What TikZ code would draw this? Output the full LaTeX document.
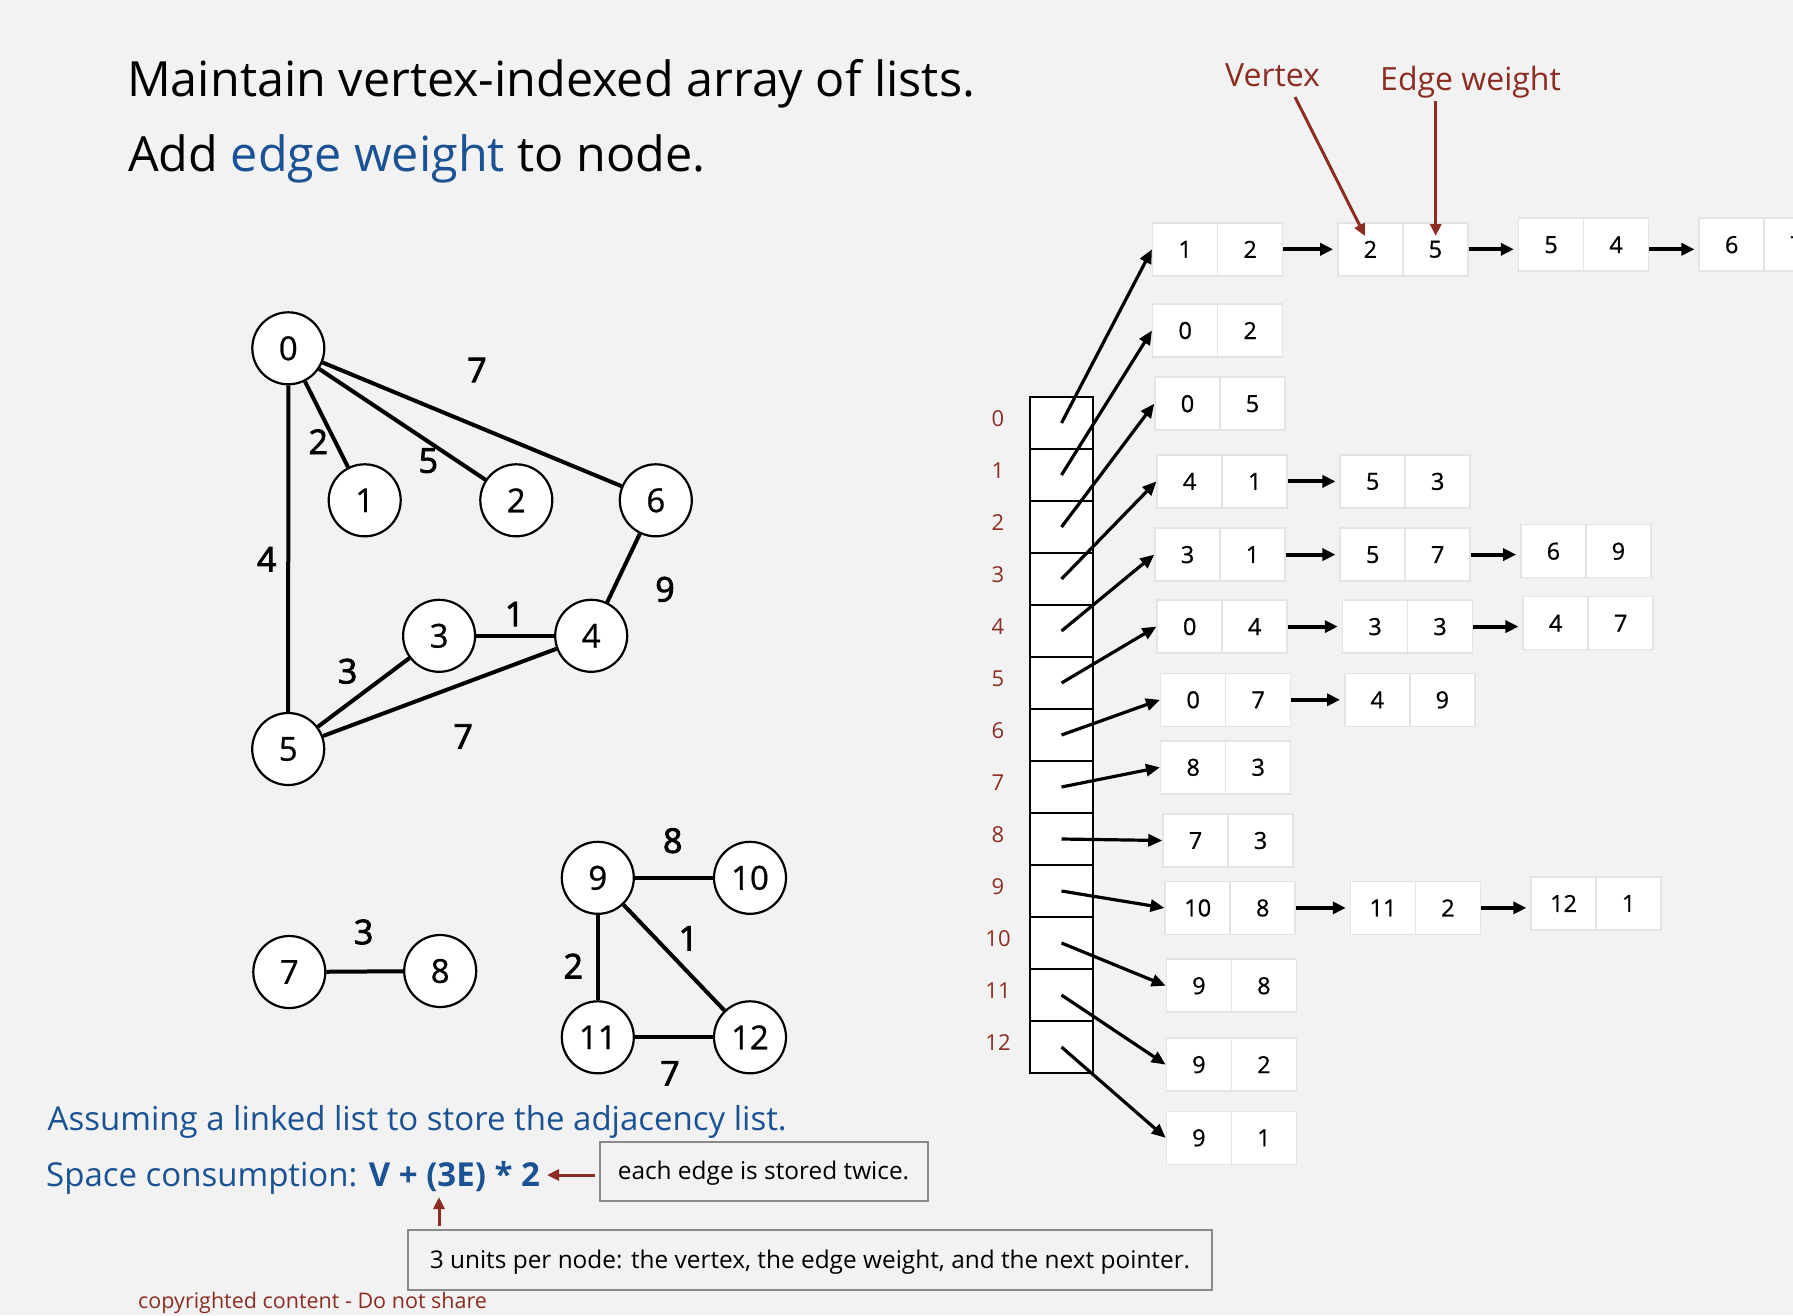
\documentclass[tikz,border=0pt]{standalone}
\usepackage{fontspec}
\setmainfont{Open Sans}
\newfontfamily\lblfont[FakeBold=2.5]{Open Sans}
\newfontfamily\cellfont[FakeBold=0.8]{Open Sans}
\usetikzlibrary{arrows.meta}
\definecolor{bg}{HTML}{F2F2F2}
\definecolor{myblue}{HTML}{1A5294}
\definecolor{myred}{HTML}{8C2D23}
\definecolor{cellgray}{HTML}{E2E5E5}
\definecolor{boxgray}{HTML}{8A8A8A}
\newcommand\fs[1]{\fontsize{#1}{#1}\selectfont}
\newcommand\lnode[5]{%
  \node[lcell] (#1a) at (#2+32.5,#3) {#4};
  \node[lcell] (#1b) at (#2+97.5,#3) {#5};}
\begin{document}
\begin{tikzpicture}[x=1pt,y=-1pt,
  gv/.style={circle,draw=black,line width=2.2pt,fill=white,minimum size=72pt,inner sep=0pt,font=\cellfont\fs{33}},
  gedge/.style={line width=4pt},
  wlab/.style={font=\lblfont\fs{34},inner sep=0pt},
  acell/.style={draw=black,line width=2pt,fill=white,minimum width=63pt,minimum height=52pt,inner sep=0pt},
  idx/.style={text=myred,font=\fs{22},inner sep=0pt},
  lcell/.style={draw=cellgray,line width=1.5pt,fill=white,minimum width=65pt,minimum height=53pt,inner sep=0pt,font=\cellfont\fs{23.5}},
  ptr/.style={line width=3.2pt,-{Triangle[length=14pt,width=12pt]}},
  nxt/.style={line width=4pt,-{Triangle[length=13pt,width=12pt]},shorten >=4pt},
  redarr/.style={draw=myred,line width=3pt,-{Triangle[length=12pt,width=11pt]}},
  note/.style={draw=boxgray,line width=2pt,inner sep=0pt,text height=17pt,text depth=0pt,font=\fs{24.4}},
  txt/.style={inner sep=0pt,anchor=base west}
]
\useasboundingbox (0,0) rectangle (1793,1315);
\clip (0,0) rectangle (1793,1315);
\fill[bg] (0,0) rectangle (1793,1315);

% titles
\node[txt,font=\fs{48.5}] (t1) at (127,96.7) {Maintain vertex-indexed array of lists.};
\node[txt,font=\fs{48.5}] (t2) at (128,171.7) {Add \textcolor{myblue}{edge weight} to node.};

% graph
\node[gv] (n0) at (288.3,348.3) {0};
\node[gv] (n1) at (364.7,500.3) {1};
\node[gv] (n2) at (516.3,500.3) {2};
\node[gv] (n6) at (655.8,500.3) {6};
\node[gv] (n3) at (439.1,635.8) {3};
\node[gv] (n4) at (591.2,635.8) {4};
\node[gv] (n5) at (288.2,749.0) {5};
\node[gv] (n7) at (289.3,972.0) {7};
\node[gv] (n8) at (440.2,971.0) {8};
\node[gv] (n9) at (597.8,877.8) {9};
\node[gv] (n10) at (750,877.8) {10};
\node[gv] (n11) at (597.8,1037.3) {11};
\node[gv] (n12) at (750,1037.3) {12};
\draw[gedge] (n0) -- (n1);
\draw[gedge] (n0) -- (n2);
\draw[gedge] (n0) -- (n6);
\draw[gedge] (n0) -- (n5);
\draw[gedge] (n6) -- (n4);
\draw[gedge] (n3) -- (n4);
\draw[gedge] (n3) -- (n5);
\draw[gedge] (n5) -- (n4);
\draw[gedge] (n7) -- (n8);
\draw[gedge] (n9) -- (n10);
\draw[gedge] (n9) -- (n11);
\draw[gedge] (n9) -- (n12);
\draw[gedge] (n11) -- (n12);
\node[wlab] (w06) at (477,370) {7};
\node[wlab] (w01) at (318.3,441.7) {2};
\node[wlab] (w02) at (428.3,460.7) {5};
\node[wlab] (w05) at (266.7,559.3) {4};
\node[wlab] (w64) at (665,589.3) {9};
\node[wlab] (w34) at (514.6,614.1) {1};
\node[wlab] (w35) at (347.6,671.2) {3};
\node[wlab] (w54) at (463.1,736.4) {7};
\node[wlab] (w78) at (363.6,932.0) {3};
\node[wlab] (w910) at (672.7,840.7) {8};
\node[wlab] (w912) at (688.3,938.3) {1};
\node[wlab] (w911) at (573.3,966) {2};
\node[wlab] (w1112) at (670,1073.3) {7};

% array
\foreach \i in {0,...,12} {
  \node[acell] (a\i) at (1061.5,423+52*\i) {};
  \node[idx] (l\i) at (998,419+52*\i) {\i};
}

% lists
\lnode{r0x1}{1152.7}{249.3}{1}{2}
\lnode{r0x2}{1337.9}{249.3}{2}{5}
\lnode{r0x3}{1518.6}{244.7}{5}{4}
\lnode{r0x4}{1699.2}{244.7}{6}{7}
\lnode{r1x1}{1152.7}{330.5}{0}{2}
\lnode{r2x1}{1155}{403.7}{0}{5}
\lnode{r3x1}{1157.2}{481.4}{4}{1}
\lnode{r3x2}{1340.2}{481.4}{5}{3}
\lnode{r4x1}{1155}{554.6}{3}{1}
\lnode{r4x2}{1340.2}{554.6}{5}{7}
\lnode{r4x3}{1520.9}{551.2}{6}{9}
\lnode{r5x1}{1157.2}{626.6}{0}{4}
\lnode{r5x2}{1342.5}{626.6}{3}{3}
\lnode{r5x3}{1523.2}{623.2}{4}{7}
\lnode{r6x1}{1160.7}{699.8}{0}{7}
\lnode{r6x2}{1344.8}{699.8}{4}{9}
\lnode{r7x1}{1160.7}{767.3}{8}{3}
\lnode{r8x1}{1163}{840.5}{7}{3}
\lnode{r9x1}{1165.2}{907.9}{10}{8}
\lnode{r9x2}{1350.5}{907.9}{11}{2}
\lnode{r9x3}{1531.1}{903.4}{12}{1}
\lnode{r10x1}{1166.4}{985.7}{9}{8}
\lnode{r11x1}{1166.4}{1064.6}{9}{2}
\lnode{r12x1}{1166.4}{1137.8}{9}{1}

% pointers from array
\foreach \i in {0,...,12} {
  \draw[ptr] (a\i.center) -- (r\i x1a.west);
}

% next arrows
\draw[nxt] (r0x1b.east) -- (r0x2a.west);
\draw[nxt] (r0x2b.east) -- (r0x3a.west |- r0x2b.east);
\draw[nxt] (r0x3b.east |- r0x2b.east) -- (r0x4a.west |- r0x2b.east);
\draw[nxt] (r3x1b.east) -- (r3x2a.west);
\draw[nxt] (r4x1b.east) -- (r4x2a.west);
\draw[nxt] (r4x2b.east) -- (r4x3a.west |- r4x2b.east);
\draw[nxt] (r5x1b.east) -- (r5x2a.west);
\draw[nxt] (r5x2b.east) -- (r5x3a.west |- r5x2b.east);
\draw[nxt] (r6x1b.east) -- (r6x2a.west);
\draw[nxt] (r9x1b.east) -- (r9x2a.west);
\draw[nxt] (r9x2b.east) -- (r9x3a.west |- r9x2b.east);

% annotations top
\node[txt,text=myred,font=\fs{32}] (vtx) at (1225,86.7) {Vertex};
\node[txt,text=myred,font=\fs{32}] (ewt) at (1380,90) {Edge weight};
\coordinate (vs) at (1295,97);
\coordinate (ve) at (1365,236);
\coordinate (es) at (1435.7,101);
\coordinate (ee) at (1435.7,236);
\draw[redarr] (vs) -- (ve);
\draw[redarr] (es) -- (ee);

% bottom text
\node[txt,text=myblue,font=\fs{33}] (as) at (47.5,1130.7) {Assuming a linked list to store the adjacency list.};
\node[txt,text=myblue,font=\fs{33}] (sp) at (46,1186) {Space consumption: \textbf{V + (3E) * 2}};
\node[note,minimum width=328pt,minimum height=59pt] (nb1) at (763.5,1171) {each edge is stored twice.};
\node[note,minimum width=804pt,minimum height=60pt] (nb2) at (810,1260) {3 units per node: the vertex, the edge weight, and the next pointer.};
\coordinate (e1) at (547,1175);
\coordinate (e2) at (439,1197);
\draw[redarr,shorten <=4pt] (nb1.west |- e1) -- (e1);
\draw[redarr,shorten <=3pt] (nb2.north -| e2) -- (e2);
\node[txt,text=myred,font=\fs{21.5}] (cp) at (138,1308.5) {copyrighted content - Do not share};
\end{tikzpicture}
\end{document}
